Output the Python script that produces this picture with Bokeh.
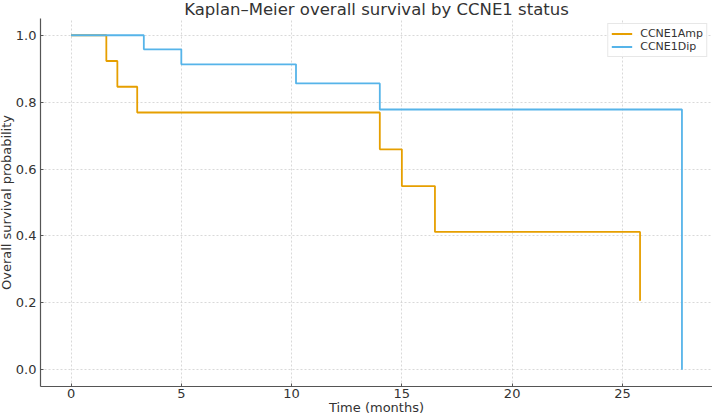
from bokeh.plotting import figure
from bokeh.models import Range1d, Legend, LegendItem, CustomJSTickFormatter, Title
from bokeh.embed import file_html
from bokeh.resources import INLINE

# Data
amp_time = [0.0, 1.6, 2.1, 3.0, 14.0, 15.0, 16.5, 25.8]
amp_surv = [1.0, 0.923, 0.846, 0.769, 0.659, 0.549, 0.412, 0.206]
dip_time = [0.0, 3.3, 5.0, 10.2, 14.0, 27.7]
dip_surv = [1.0, 0.958, 0.913, 0.856, 0.778, 0.0]
series_names = ["CCNE1Amp", "CCNE1Dip"]
x_ticks = [0, 5, 10, 15, 20, 25]
y_ticks = [0.0, 0.2, 0.4, 0.6, 0.8, 1.0]
title_text = "Kaplan\u2013Meier overall survival by CCNE1 status"
x_label = "Time (months)"
y_label = "Overall survival probability"

FONT = "DejaVu Sans"
TXT = "#333333"

p = figure(width=712, height=417, output_backend="svg", toolbar_location=None,
           x_range=Range1d(-1.385, 29.085), y_range=Range1d(-0.05, 1.05),
           min_border_left=40, min_border_right=0, min_border_top=18, min_border_bottom=31)
p.title.text = title_text
p.title.align = "center"
p.title.vertical_align = "top"
p.title.text_font = FONT
p.title.text_font_size = "16.5px"
p.title.text_font_style = "normal"
p.title.text_color = TXT
p.title.standoff = -4
p.title.offset = 0

p.outline_line_color = None
p.background_fill_color = "white"
p.border_fill_color = "white"

for ax in (p.xaxis[0], p.yaxis[0]):
    ax.axis_line_color = "#555555"
    ax.axis_line_width = 1.2
    ax.major_tick_in = 3
    ax.major_tick_out = 0
    ax.major_tick_line_color = "#555555"
    ax.minor_tick_line_color = None
    ax.major_label_text_font = FONT
    ax.major_label_text_font_size = "13px"
    ax.major_label_text_color = TXT
    ax.axis_label_text_font = FONT
    ax.axis_label_text_font_size = "13px"
    ax.axis_label_text_font_style = "normal"
    ax.axis_label_text_color = TXT

p.xaxis.ticker = x_ticks
p.yaxis.ticker = y_ticks
p.yaxis.formatter = CustomJSTickFormatter(code="return tick.toFixed(1);")
p.xaxis.axis_label = x_label
p.xaxis.major_label_standoff = 2
p.yaxis.major_label_standoff = 4
p.xaxis.axis_label_standoff = -1

# y-axis title as a side Title (real text) to keep the left margin compact
ytitle = Title(text=y_label, align="center", vertical_align="middle",
               text_font=FONT, text_font_size="13px", text_font_style="normal",
               text_color=TXT, standoff=-5, offset=0)
p.add_layout(ytitle, "left")

p.grid.grid_line_color = "#cfcfcf"
p.grid.grid_line_dash = "2 2"
p.grid.grid_line_width = 0.8

r1 = p.step(amp_time, amp_surv, mode="after", line_color="#E69F00", line_width=1.8)
r2 = p.step(dip_time, dip_surv, mode="after", line_color="#56B4E9", line_width=1.8)

legend = Legend(items=[LegendItem(label=series_names[0], renderers=[r1]),
                       LegendItem(label=series_names[1], renderers=[r2])],
                location="top_right")
legend.margin = 5
legend.padding = 3
legend.spacing = 0
legend.glyph_width = 21
legend.glyph_height = 13
legend.label_standoff = 8
legend.label_height = 13
legend.label_text_font = FONT
legend.label_text_font_size = "11px"
legend.label_text_color = TXT
legend.border_line_color = "#d0d0d0"
legend.border_line_width = 1
legend.background_fill_alpha = 0.9
p.add_layout(legend)

open("out.html", "w").write(file_html(p, INLINE))
